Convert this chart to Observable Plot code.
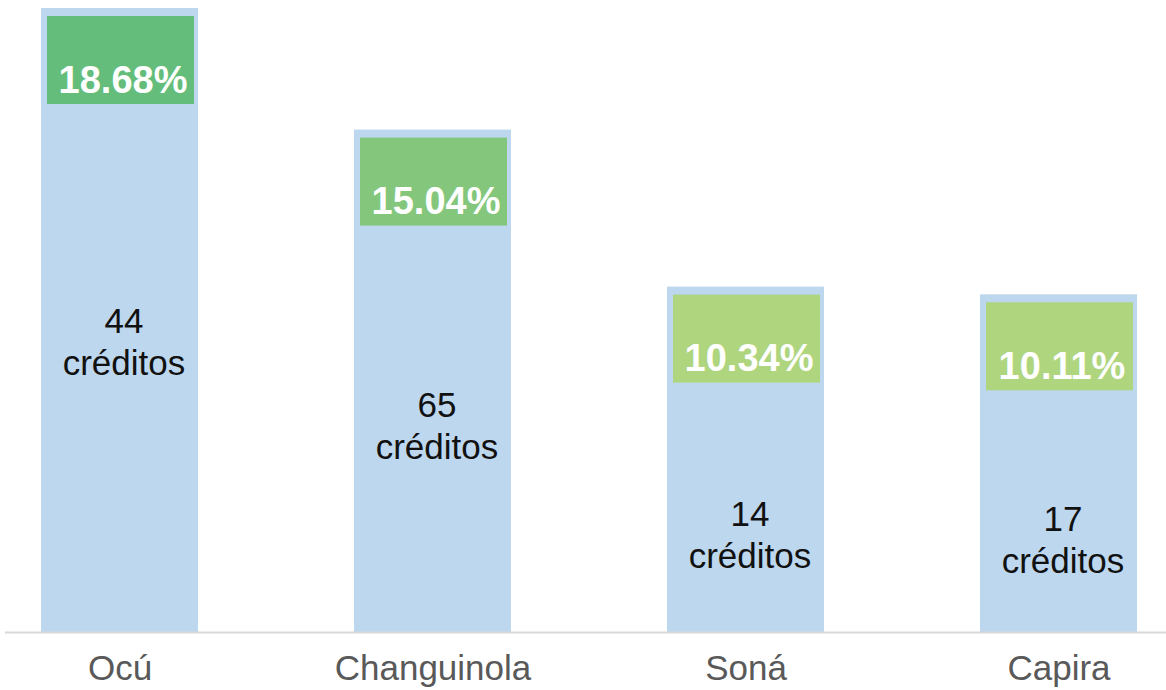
<!DOCTYPE html>
<html><head><meta charset="utf-8">
<script src="https://cdn.jsdelivr.net/npm/d3@7"></script>
<script src="https://cdn.jsdelivr.net/npm/@observablehq/plot@0.6"></script>
<style>body{margin:0;background:#fff}</style>
</head><body><div id="chart"></div>
<script>
const municipios = ["Ocú", "Changuinola", "Soná", "Capira"];
const porcentajes = [18.68, 15.04, 10.34, 10.11];
const creditos = [44, 65, 14, 17];

const data = municipios.map((m, i) => ({m, p: porcentajes[i], c: creditos[i]}));

const chart = Plot.plot({
  width: 1166, height: 690,
  marginTop: 8, marginBottom: 58, marginLeft: 40, marginRight: 28,
  style: {fontFamily: "'Liberation Sans', Arial, sans-serif", background: "white"},
  x: {domain: municipios, paddingInner: 0.5, paddingOuter: 0, label: null},
  y: {domain: [0, 18.68], axis: null},
  color: {domain: municipios, range: ["#64bd7a", "#84c77c", "#afd57f", "#afd57f"]},
  marks: [
    Plot.barY(data, {x: "m", y: "p", fill: "#bdd7ee"}),
    Plot.barY(data, {x: "m", y1: "p", y2: "p", fill: "m", insetTop: 8, insetBottom: -96, insetLeft: 6, insetRight: 4}),
    Plot.text(data, {x: "m", y: "p", text: d => d.p.toFixed(2) + "%", dy: 72, dx: 3,
      fill: "white", fontWeight: "bold", fontSize: 38, lineAnchor: "middle"}),
    Plot.text(data, {x: "m", y: d => d.p * 0.69 - 4.16, text: d => `${d.c}\ncréditos`, dx: 4,
      fill: "#111", fontSize: 35, lineHeight: 1.2, lineAnchor: "middle"}),
    Plot.ruleY([0], {stroke: "#d9d9d9", strokeWidth: 2, insetLeft: -35, insetRight: -28}),
    Plot.axisX({tickSize: 0, tickPadding: 23, fontSize: 35, fill: "#595959", label: null})
  ]
});
document.getElementById("chart").append(chart);
</script>
</body></html>
